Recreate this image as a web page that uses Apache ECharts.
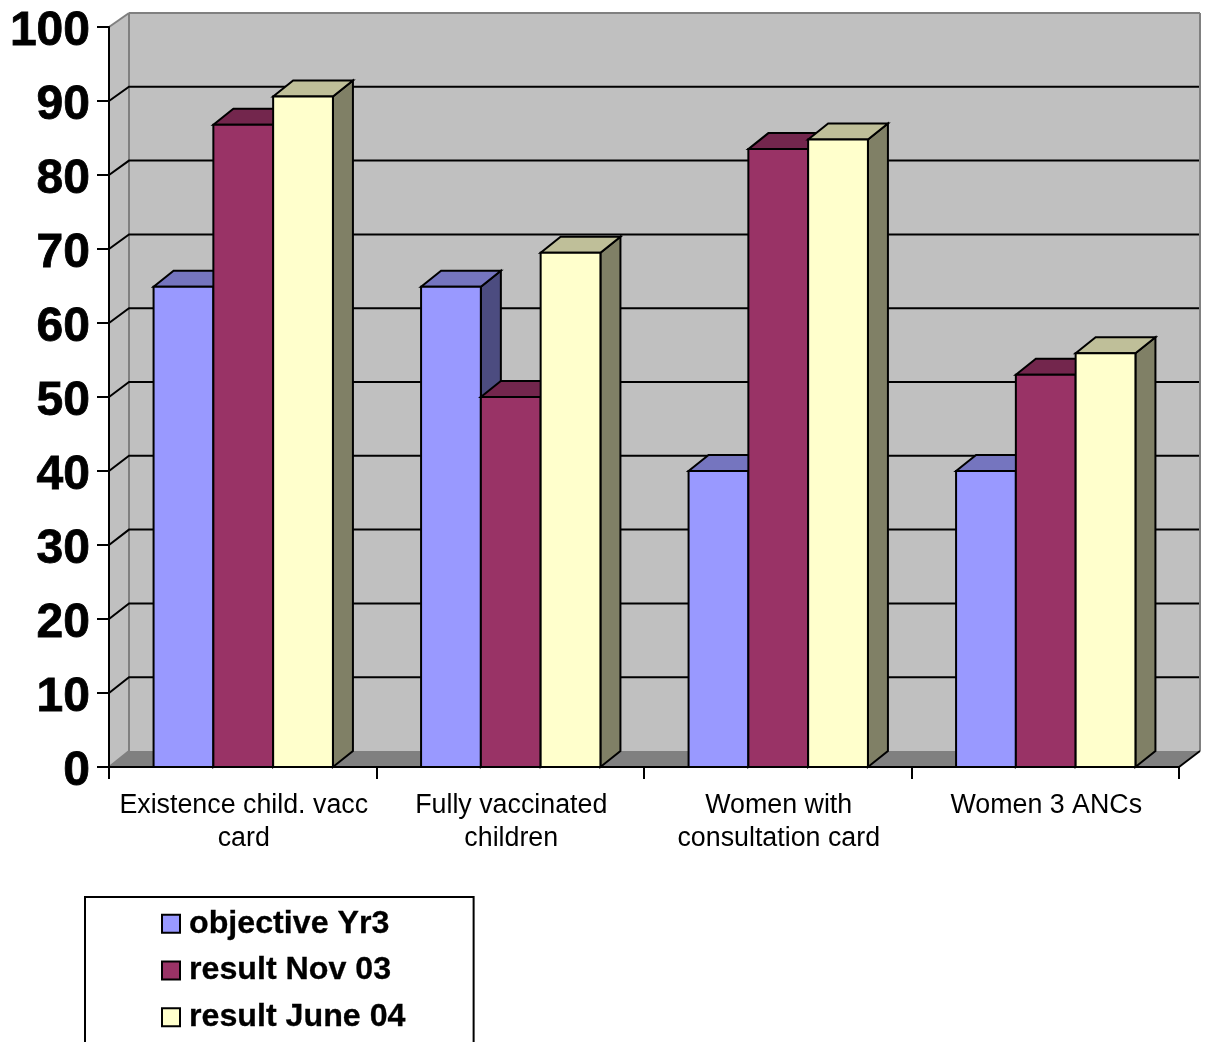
<!DOCTYPE html>
<html>
<head>
<meta charset="utf-8">
<style>html,body{margin:0;padding:0;background:#fff;overflow:hidden}#c{width:1207px;height:1042px}</style>
<script src="https://cdn.jsdelivr.net/npm/echarts@6/dist/echarts.min.js"></script>
</head>
<body>
<div id="c"></div>
<script>
const categories = ['Existence child. vacc\ncard', 'Fully vaccinated\nchildren', 'Women with\nconsultation card', 'Women 3 ANCs'];
const objectiveYr3 = [64.9, 64.9, 40, 40];
const resultNov03 = [86.8, 50, 83.5, 53];
const resultJune04 = [90.6, 69.5, 84.8, 55.9];
const gridValues = [10, 20, 30, 40, 50, 60, 70, 80, 90];
const seriesNames = ['objective Yr3', 'result Nov 03', 'result June 04'];

const DX = 20, DY = -16, LW = 2;
const FONT = '"Liberation Sans", Arial, sans-serif';
const palette = [
  { front: '#9999FF', top: '#7575BF', side: '#4C4C80' },
  { front: '#993366', top: '#73264D', side: '#4D1933' },
  { front: '#FFFFCC', top: '#BFBF99', side: '#808066' }
];
const wallDy = v => -16 + 2 * v / 100;

function renderWalls(params, api) {
  const cs = params.coordSys;
  const l = cs.x, r = cs.x + cs.width, t = cs.y, b = cs.y + cs.height;
  const grey = { stroke: '#808080', lineWidth: LW };
  const poly = (points, fill) => ({ type: 'polygon', shape: { points }, style: { fill, stroke: fill, lineWidth: 0 } });
  const line = (x1, y1, x2, y2, style) => ({ type: 'line', shape: { x1, y1, x2, y2 }, style });
  return { type: 'group', children: [
    poly([[l + DX, t - 14], [r + DX + 1, t - 14], [r + DX + 1, b - 16], [l + DX, b - 16]], '#C0C0C0'),
    poly([[l, t], [l + DX, t - 14], [l + DX, b - 16], [l, b]], '#C0C0C0'),
    poly([[l, b], [l + DX, b - 16], [r + DX + 1, b - 16], [r, b]], '#808080'),
    line(l, t, l + DX, t - 14, grey),
    line(l + DX, t - 14, r + DX + 1, t - 14, grey),
    line(l + DX, t - 14, l + DX, b - 16, grey),
    line(r + DX + 1, t - 14, r + DX + 1, b - 16, grey),
    line(l, b, l + DX, b - 16, grey),
    line(r, b, r + DX + 1, b - 16, { stroke: '#000', lineWidth: LW })
  ] };
}

function renderGrid(params, api) {
  const cs = params.coordSys;
  const v = api.value(0);
  const y = api.coord([0, v])[1];
  const l = cs.x, r = cs.x + cs.width;
  const dy = wallDy(v);
  return { type: 'polyline', shape: { points: [[l, y], [l + DX, y + dy], [r + DX, y + dy]] }, style: { fill: 'none', stroke: '#000', lineWidth: LW } };
}

function makeBarRenderer(si) {
  return function (params, api) {
    const cat = api.value(0), val = api.value(1);
    const topC = api.coord([cat, val]);
    const base = api.coord([cat, 0]);
    const band = api.size([1, 0])[0];
    const w = band * 0.2235;
    const x0 = topC[0] + (si - 1.5) * w + 0.5, x1 = x0 + w;
    const yt = topC[1], yb = base[1];
    const c = palette[si];
    const st = fill => ({ fill, stroke: '#000', lineWidth: LW, lineJoin: 'miter' });
    return { type: 'group', children: [
      { type: 'polygon', shape: { points: [[x1, yt], [x1 + DX, yt + DY], [x1 + DX, yb + DY], [x1, yb]] }, style: st(c.side) },
      { type: 'polygon', shape: { points: [[x0, yt], [x0 + DX, yt + DY], [x1 + DX, yt + DY], [x1, yt]] }, style: st(c.top) },
      { type: 'rect', shape: { x: x0, y: yt, width: w, height: yb - yt }, style: st(c.front) }
    ] };
  };
}

const valueLists = [objectiveYr3, resultNov03, resultJune04];
const chart = echarts.init(document.getElementById('c'), null, { renderer: 'canvas', width: 1207, height: 1042 });
chart.setOption({
  animation: false,
  backgroundColor: '#fff',
  grid: { left: 109, right: 28, top: 27, bottom: 275, containLabel: false },
  legend: {
    orient: 'vertical', left: 85, top: 897, height: 400,
    padding: [10.5, 68, 60, 76],
    itemGap: 14.5, itemWidth: 18, itemHeight: 18,
    borderColor: '#000', borderWidth: 2, backgroundColor: '#fff',
    textStyle: { fontFamily: FONT, fontSize: 32.2, fontWeight: 'bold', color: '#000', textBorderColor: '#000', textBorderWidth: 0.3, padding: [0, 0, 0, 4] },
    data: seriesNames.map((n, i) => ({ name: n, icon: 'rect', itemStyle: { color: palette[i].front, borderColor: '#000', borderWidth: 2 } }))
  },
  xAxis: {
    type: 'category', data: categories, boundaryGap: true, z: 6,
    axisLine: { show: true, lineStyle: { color: '#000', width: LW } },
    axisTick: { show: true, length: 12, alignWithLabel: false, lineStyle: { color: '#000', width: LW } },
    axisLabel: { interval: 0, margin: 22, fontFamily: FONT, fontSize: 26.8, lineHeight: 33, color: '#000', hideOverlap: false, padding: [0, 0, 0, 2] },
    splitLine: { show: false }
  },
  yAxis: {
    type: 'value', min: 0, max: 100, interval: 10, z: 6,
    axisLine: { show: true, lineStyle: { color: '#000', width: LW } },
    axisTick: { show: true, length: 12, lineStyle: { color: '#000', width: LW } },
    axisLabel: { margin: 19, fontFamily: FONT, fontSize: 48, fontWeight: 'bold', color: '#000', textBorderColor: '#000', textBorderWidth: 0.8, verticalAlign: 'top', lineHeight: 9, showMinLabel: true, showMaxLabel: true },
    splitLine: { show: false }
  },
  series: [
    { type: 'custom', name: 'walls', z: 1, silent: true, data: [[0]], encode: { y: 0 }, renderItem: renderWalls },
    { type: 'custom', name: 'gridlines', z: 2, silent: true, data: gridValues.map(v => [v]), encode: { y: 0 }, renderItem: renderGrid }
  ].concat(seriesNames.map((name, si) => ({
    type: 'custom', name, z: 3 + si, itemStyle: { color: palette[si].front },
    data: categories.map((c, i) => [i, valueLists[si][i]]),
    encode: { x: 0, y: 1 },
    renderItem: makeBarRenderer(si)
  })))
});
</script>
</body>
</html>
